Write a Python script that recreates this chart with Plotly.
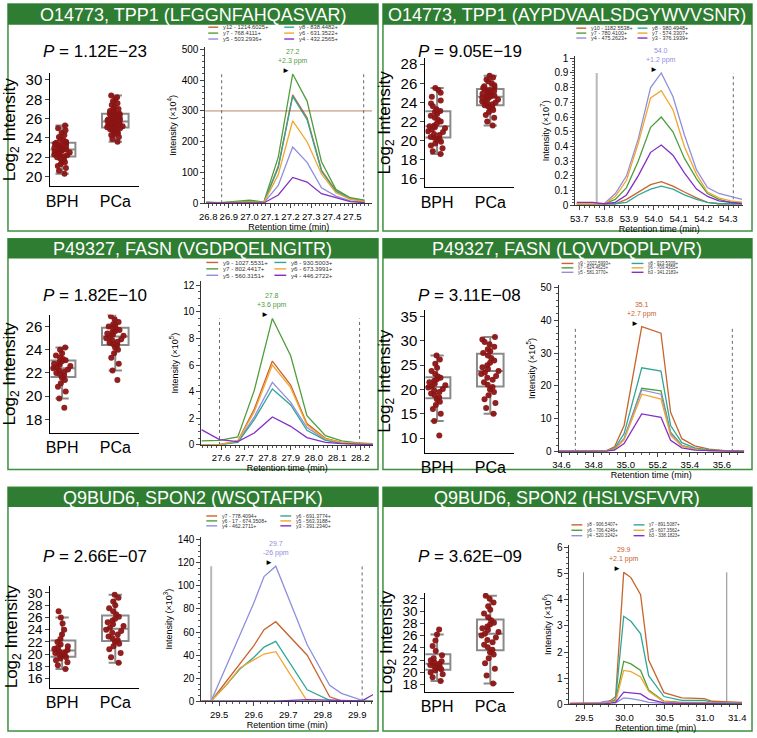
import plotly.graph_objects as go

W, H = 757, 738

# ---------------- DATA ----------------
headers = ["O14773, TPP1 (LFGGNFAHQASVAR)", "O14773, TPP1 (AYPDVAALSDGYWVVSNR)",
           "P49327, FASN (VGDPQELNGITR)", "P49327, FASN (LQVVDQPLPVR)",
           "Q9BUD6, SPON2 (WSQTAFPK)", "Q9BUD6, SPON2 (HSLVSFVVR)"]
p_values = ["1.12E\u221223", "9.05E\u221219", "1.82E\u221210", "3.11E\u221208", "2.66E\u221207", "3.62E\u221209"]
groups = ["BPH", "PCa"]

# Log2 intensities (box plots)
p1_bph = [20.3, 20.6, 20.9, 21.1, 21.3, 21.5, 21.6, 21.8, 21.9, 22.0, 22.1, 22.2, 22.2, 22.3, 22.4, 22.5, 22.5, 22.6,
          22.7, 22.7, 22.8, 22.8, 22.9, 23.0, 23.0, 23.1, 23.2, 23.3, 23.3, 23.4, 23.5, 23.5, 23.6, 23.8, 23.9, 24.1,
          24.3, 24.5, 24.8, 25.0, 25.3]
p1_pca = [23.6, 23.9, 24.1, 24.3, 24.4, 24.5, 24.6, 24.7, 24.8, 24.9, 24.9, 25.0, 25.0, 25.1, 25.1, 25.2, 25.2, 25.3,
          25.3, 25.4, 25.4, 25.5, 25.5, 25.6, 25.6, 25.6, 25.7, 25.7, 25.8, 25.8, 25.9, 25.9, 26.0, 26.0, 26.1, 26.2,
          26.2, 26.3, 26.4, 26.5, 26.5, 26.6, 26.7, 26.8, 26.9, 27.0, 27.2, 27.4, 27.6, 27.8, 28.0, 28.2, 28.4]
p2_bph = [18.6, 18.9, 19.2, 19.5, 19.7, 19.9, 20.1, 20.2, 20.3, 20.4, 20.6, 20.7, 20.9, 21.0, 21.2, 21.3, 21.4, 21.5,
          21.6, 21.8, 22.0, 22.2, 22.4, 22.6, 22.8, 23.0, 23.1, 23.3, 23.6, 23.9, 24.2, 24.6, 25.0, 25.3, 25.5]
p2_pca = [21.6, 22.0, 22.4, 22.7, 23.0, 23.2, 23.4, 23.5, 23.6, 23.7, 23.8, 23.9, 24.0, 24.1, 24.2, 24.3, 24.4, 24.5,
          24.6, 24.6, 24.7, 24.7, 24.8, 24.9, 25.0, 25.1, 25.2, 25.3, 25.4, 25.5, 25.6, 25.7, 25.8, 26.0, 26.2, 26.4,
          26.6, 26.8]
p3_bph = [19.0, 19.8, 20.4, 20.8, 21.1, 21.4, 21.6, 21.8, 21.9, 22.0, 22.1, 22.2, 22.3, 22.4, 22.5, 22.6, 22.7, 22.8,
          22.9, 23.0, 23.1, 23.2, 23.3, 23.5, 23.7, 24.0, 24.2]
p3_pca = [21.4, 22.2, 22.8, 23.3, 23.7, 24.0, 24.2, 24.4, 24.5, 24.6, 24.7, 24.8, 24.9, 25.0, 25.1, 25.2, 25.3, 25.4,
          25.5, 25.6, 25.7, 25.8, 25.9, 26.0, 26.1, 26.2, 26.4, 26.6, 26.9, 27.2]
p4_bph = [10.5, 13.5, 15.0, 16.0, 16.8, 17.5, 18.0, 18.4, 18.8, 19.2, 19.5, 19.8, 20.1, 20.4, 20.6, 20.9, 21.2, 21.5,
          21.8, 22.1, 22.4, 22.7, 23.2, 23.8, 24.5, 25.3, 26.2, 27.0]
p4_pca = [15.0, 16.2, 17.2, 18.0, 18.8, 19.5, 20.0, 20.5, 21.0, 21.5, 22.0, 22.4, 22.8, 23.2, 23.5, 23.8, 24.2, 24.6,
          25.0, 25.5, 26.0, 26.5, 27.0, 27.5, 27.9, 28.3, 28.8, 29.3, 29.8, 30.3, 30.8]
p5_bph = [17.6, 18.2, 18.7, 19.0, 19.3, 19.5, 19.7, 19.9, 20.0, 20.2, 20.3, 20.5, 20.7, 20.9, 21.1, 21.3, 21.6, 22.0,
          22.5, 23.2, 24.0, 25.0, 26.0, 27.0]
p5_pca = [18.6, 19.5, 20.2, 20.8, 21.3, 21.7, 22.0, 22.3, 22.6, 22.9, 23.2, 23.5, 23.8, 24.0, 24.3, 24.6, 24.9, 25.2,
          25.5, 25.8, 26.1, 26.5, 27.0, 27.5, 28.0, 28.6, 29.2, 29.7]
p6_bph = [18.6, 19.2, 19.7, 20.0, 20.3, 20.5, 20.7, 20.9, 21.0, 21.2, 21.4, 21.6, 21.8, 22.0, 22.3, 22.8, 23.5, 24.3,
          25.2, 26.2, 27.0]
p6_pca = [18.2, 19.5, 20.6, 21.5, 22.3, 22.9, 23.3, 23.7, 24.1, 24.5, 24.9, 25.3, 25.7, 26.0, 26.3, 26.6, 26.9, 27.2,
          27.5, 27.8, 28.1, 28.5, 29.0, 29.6, 30.2, 30.8, 31.4, 32.0, 32.5]

# Chromatograms: retention times and transition intensities
c1_rt = [26.79, 26.86, 26.93, 27.00, 27.07, 27.14, 27.21, 27.28, 27.35, 27.42, 27.49, 27.56]
c1_names = ["y12 - 1214.6025+", "y7 - 768.4111+", "y5 - 503.2936+", "y8 - 838.4482+", "y6 - 631.3522+", "y4 - 432.2565+"]
c1_y12 = [3, 1, 3, 5, 2, 120, 352, 278, 108, 40, 16, 6]
c1_y7 = [4, 2, 6, 10, 4, 150, 420, 332, 135, 45, 18, 10]
c1_y5 = [2, 1, 2, 3, 1, 58, 183, 133, 50, 23, 8, 3]
c1_y8 = [3, 1, 3, 4, 2, 115, 347, 272, 104, 38, 15, 6]
c1_y6 = [2, 1, 3, 4, 2, 93, 268, 200, 95, 34, 13, 5]
c1_y4 = [1, 1, 1, 2, 1, 27, 84, 69, 31, 18, 5, 2]
c1_bounds = [26.865, 27.555]

c2_rt = [53.69, 53.753, 53.80, 53.845, 53.89, 53.937, 53.987, 54.03, 54.077, 54.123, 54.172, 54.216, 54.262, 54.309, 54.355]
c2_names = ["y10 - 1182.5538+", "y7 - 780.4100+", "y4 - 475.2623+", "y8 - 980.4948+", "y7 - 574.3307+", "y3 - 376.1939+"]
c2_y10 = [0.01, 0.01, 0.01, 0.01, 0.04, 0.09, 0.14, 0.16, 0.13, 0.09, 0.05, 0.02, 0.01, 0.01, 0.01]
c2_y7a = [0.01, 0.01, 0.01, 0.04, 0.12, 0.30, 0.53, 0.60, 0.50, 0.32, 0.18, 0.08, 0.04, 0.02, 0.02]
c2_y4 = [0.02, 0.01, 0.01, 0.08, 0.20, 0.45, 0.80, 0.90, 0.74, 0.48, 0.24, 0.12, 0.08, 0.06, 0.04]
c2_y8 = [0.01, 0.01, 0.01, 0.01, 0.02, 0.07, 0.11, 0.13, 0.11, 0.07, 0.04, 0.02, 0.01, 0.01, 0.01]
c2_y7b = [0.01, 0.01, 0.01, 0.06, 0.17, 0.42, 0.73, 0.78, 0.65, 0.40, 0.21, 0.09, 0.05, 0.03, 0.02]
c2_y3 = [0.02, 0.02, 0.01, 0.02, 0.07, 0.20, 0.36, 0.41, 0.34, 0.22, 0.11, 0.06, 0.03, 0.02, 0.01]
c2_bounds = [53.77, 54.32]

c3_rt = [27.515, 27.593, 27.672, 27.743, 27.821, 27.90, 27.97, 28.05, 28.12, 28.19, 28.254]
c3_names = ["y9 - 1027.5531+", "y7 - 802.4417+", "y5 - 560.3151+", "y8 - 930.5003+", "y6 - 673.3991+", "y4 - 446.2722+"]
c3_y9 = [0.0, 0.02, 0.3, 2.7, 6.3, 4.5, 1.6, 0.5, 0.2, 0.1, 0.05]
c3_y7 = [0.3, 0.35, 0.6, 4.1, 9.5, 6.7, 2.2, 0.7, 0.3, 0.15, 0.1]
c3_y5 = [0.0, 0.02, 0.25, 2.1, 4.7, 3.2, 1.3, 0.4, 0.15, 0.08, 0.05]
c3_y8 = [0.0, 0.02, 0.2, 1.9, 4.2, 3.0, 1.1, 0.35, 0.12, 0.06, 0.04]
c3_y6 = [0.0, 0.02, 0.3, 2.5, 6.0, 4.3, 1.5, 0.45, 0.2, 0.1, 0.05]
c3_y4 = [1.15, 0.4, 0.25, 0.9, 2.1, 1.4, 0.55, 0.2, 0.1, 0.05, 0.03]
c3_bounds = [27.593, 28.197]

c4_rt = [34.58, 34.70, 34.80, 34.88, 34.93, 34.99, 35.10, 35.22, 35.28, 35.35, 35.43, 35.52, 35.62, 35.74]
c4_names = ["y9 - 1022.5993+", "y7 - 624.4625+", "y5 - 581.3770+", "y8 - 923.5309+", "y6 - 709.4355+", "b3 - 341.2183+"]
c4_y9 = [0.3, 0.3, 0.3, 0.4, 1.5, 8.0, 38.0, 36.0, 12.0, 4.0, 1.8, 0.8, 0.4, 0.3]
c4_y7 = [0.2, 0.2, 0.2, 0.3, 0.8, 4.0, 19.3, 18.5, 6.0, 2.0, 0.9, 0.4, 0.3, 0.2]
c4_y5 = [0.2, 0.2, 0.2, 0.3, 0.8, 4.0, 18.8, 17.5, 5.5, 1.9, 0.8, 0.4, 0.3, 0.2]
c4_y8 = [0.2, 0.2, 0.2, 0.3, 1.0, 5.5, 25.5, 24.5, 8.0, 2.8, 1.2, 0.6, 0.3, 0.2]
c4_y6 = [0.2, 0.2, 0.2, 0.3, 0.7, 3.6, 17.5, 16.0, 5.0, 1.7, 0.8, 0.4, 0.2, 0.2]
c4_b3 = [0.1, 0.1, 0.1, 0.2, 0.5, 2.5, 11.5, 10.5, 3.5, 1.2, 0.5, 0.3, 0.2, 0.1]
c4_bounds = [34.686, 35.665]
c4_ticks = [34.6, 34.8, 35.0, 35.2, 35.4, 35.6]
c4_ticktext = ["34.6", "34.8", "35.0", "55.2", "35.4", "35.6"]

c5_rt = [29.449, 29.477, 29.52, 29.56, 29.60, 29.63, 29.664, 29.755, 29.82, 29.854, 29.914, 29.946]
c5_names = ["y7 - 778.4094+", "y6 - 17 - 674.3508+", "y4 - 462.2711+", "y6 - 691.3774+", "y5 - 563.3188+", "y3 - 391.2340+"]
c5_y7 = [0.5, 0.5, 17, 33, 48, 62, 69, 40, 4, 0.5, 0.5, 0.5]
c5_y6_17 = [0.3, 0.3, 0.3, 0.3, 0.3, 0.3, 0.3, 0.3, 0.3, 0.3, 0.3, 0.3]
c5_y4 = [0.5, 0.5, 30, 58, 85, 108, 117, 49, 14, 7, 1, 0.5]
c5_y6 = [0.5, 0.5, 14, 28, 38, 47, 52, 10, 1, 0.5, 0.5, 0.5]
c5_y5 = [0.5, 0.5, 14, 29, 36, 41, 43, 0.3, 0.0, 0.0, 0.0, 0.0]
c5_y3 = [0.3, 0.3, 0.3, 0.3, 0.3, 0.3, 0.3, 1.5, 1.0, 0.5, 0.5, 6.0]
c5_bounds = [29.477, 29.914]

c6_rt = [29.32, 29.50, 29.67, 29.77, 29.83, 29.89, 29.99, 30.08, 30.20, 30.30, 30.49, 30.71, 30.99, 31.09, 31.46]
c6_names = ["y8 - 906.5407+", "y6 - 706.4246+", "y4 - 520.3242+", "y7 - 891.5087+", "y5 - 607.3562+", "b3 - 338.1823+"]
c6_y8 = [0.05, 0.05, 0.05, 0.10, 0.15, 0.30, 5.05, 4.85, 4.20, 1.70, 0.45, 0.25, 0.22, 0.12, 0.08]
c6_y6 = [0.03, 0.03, 0.03, 0.05, 0.08, 0.15, 1.65, 1.55, 1.30, 0.55, 0.12, 0.08, 0.08, 0.05, 0.03]
c6_y4 = [0.02, 0.02, 0.05, 0.12, 0.08, 0.06, 0.25, 0.22, 0.15, 0.08, 0.04, 0.03, 0.03, 0.02, 0.02]
c6_y7 = [0.03, 0.03, 0.03, 0.05, 0.10, 0.20, 3.37, 3.18, 2.70, 1.10, 0.30, 0.15, 0.15, 0.08, 0.05]
c6_y5 = [0.03, 0.03, 0.03, 0.05, 0.08, 0.10, 1.30, 1.25, 1.05, 0.50, 0.10, 0.06, 0.05, 0.04, 0.03]
c6_b3 = [0.02, 0.02, 0.02, 0.03, 0.05, 0.08, 0.47, 0.44, 0.40, 0.20, 0.06, 0.04, 0.04, 0.03, 0.02]
c6_bounds = [29.49, 31.27]
c6_ticks = [29.5, 30.0, 30.5, 31.0, 31.4]
c6_ticktext = ["29.5", "30.0", "30.5", "31.0", "31.4"]

peak_labels = [("27.2", "+2.3 ppm"), ("54.0", "+1.2 ppm"), ("27.8", "+3.6 ppm"),
               ("35.1", "+2.7 ppm"), ("29.7", "-26 ppm"), ("29.9", "+2.1 ppm")]
exponents = ["4", "7", "5", "5", "3", "6"]

# ---------------- STYLE ----------------
FONT = "Liberation Sans, Arial, sans-serif"
BROWN, GREEN, LAV, TEAL, ORANGE, PURPLE = "#c8642c", "#4f9e3c", "#8f8fdd", "#33a597", "#f2a630", "#8330c4"
SERIES_COLORS = [BROWN, GREEN, LAV, TEAL, ORANGE, PURPLE]
HEAD = "#2f7d32"
DOT = "#8b1414"
DOTTED = dict(color="#666", width=1, dash="dot")
SOLID_L = dict(color="#b8b8b8", width=2)
SOLID_G = dict(color="#888", width=1)


def X(p):
    return p / W


def Y(p):
    return 1 - p / H


def rng(v1, p1, v2, p2, d0, d1):
    k = (p2 - p1) / (v2 - v1)
    a, b = v1 + (d0 - p1) / k, v1 + (d1 - p1) / k
    return [min(a, b), max(a, b)]


panels = [
    dict(box=(p1_bph, p1_pca), rect=(2, 0, 377, 230), hb=21,
         bx=(45, 135), by=(70, 185), yl=(30, 77, 20, 175), yd=2, ptxt=(90, 48), tfs=15,
         rt=c1_rt, ser=[c1_y12, c1_y7, c1_y5, c1_y8, c1_y6, c1_y4], names=c1_names, main=1, bounds=c1_bounds,
         bstyle=[DOTTED, DOTTED],
         cx=(202, 371), cy=(44, 202), xl=(26.8, 205, 27.5, 351), ylv=(0, 202, 500, 46), xd=0.1, ydt=100,
         leg=(205, 282, [23.5, 29.5, 35.5], 5.8, 10)),
    dict(box=(p2_bph, p2_pca), rect=(382, 0, 756, 230), hb=21,
         bx=(425, 515), by=(55, 186), yl=(28, 61, 18, 158), yd=2, ptxt=(470, 48), tfs=15,
         rt=c2_rt, ser=[c2_y10, c2_y7a, c2_y4, c2_y8, c2_y7b, c2_y3], names=c2_names, main=2, bounds=c2_bounds,
         bstyle=[SOLID_L, DOTTED],
         cx=(577, 747), cy=(53, 204), xl=(53.7, 581, 54.3, 732), ylv=(0, 204, 1, 55), xd=0.1, ydt=0.1,
         leg=(578, 640, [24.5, 29.5, 34.5], 5.4, 10)),
    dict(box=(p3_bph, p3_pca), rect=(2, 238, 377, 472), hb=20,
         bx=(45, 135), by=(315, 435), yl=(26, 327, 18, 421), yd=2, ptxt=(90, 296), tfs=15,
         rt=c3_rt, ser=[c3_y9, c3_y7, c3_y5, c3_y8, c3_y6, c3_y4], names=c3_names, main=1, bounds=c3_bounds,
         bstyle=[DOTTED, DOTTED],
         cx=(198, 372), cy=(281, 447), xl=(27.6, 218, 28.2, 359), ylv=(0, 447, 12, 285), xd=0.1, ydt=2,
         leg=(203, 272, [262, 268.5, 275], 6.2, 12)),
    dict(box=(p4_bph, p4_pca), rect=(382, 238, 756, 472), hb=20,
         bx=(425, 515), by=(310, 455), yl=(35, 317, 10, 440), yd=5, ptxt=(470, 296), tfs=15,
         rt=c4_rt, ser=[c4_y9, c4_y7, c4_y5, c4_y8, c4_y6, c4_b3], names=c4_names, main=0, bounds=c4_bounds,
         bstyle=[DOTTED, DOTTED],
         cx=(560, 748), cy=(285, 454), xl=(34.6, 563, 35.4, 693), ylv=(0, 454, 50, 287), xd=None, ydt=10,
         leg=(563, 634, [263, 267.5, 272], 4.5, 12)),
    dict(box=(p5_bph, p5_pca), rect=(2, 490, 377, 737), hb=20,
         bx=(45, 135), by=(590, 693), yl=(30, 597, 16, 684), yd=2, ptxt=(90, 560), tfs=13.5,
         rt=c5_rt, ser=[c5_y7, c5_y6_17, c5_y4, c5_y6, c5_y5, c5_y3], names=c5_names, main=2, bounds=c5_bounds,
         bstyle=[SOLID_L, DOTTED],
         cx=(198, 372), cy=(540, 707), xl=(29.5, 216, 29.9, 356), ylv=(0, 707, 140, 543), xd=0.1, ydt=20,
         leg=(203, 278, [519, 524, 529], 5.2, 11)),
    dict(box=(p6_bph, p6_pca), rect=(382, 490, 756, 737), hb=20,
         bx=(425, 515), by=(597, 697), yl=(32, 603, 18, 690), yd=2, ptxt=(470, 560), tfs=13.5,
         rt=c6_rt, ser=[c6_y8, c6_y6, c6_y4, c6_y7, c6_y5, c6_b3], names=c6_names, main=0, bounds=c6_bounds,
         bstyle=[SOLID_G, SOLID_G],
         cx=(571, 746), cy=(548, 710), xl=(29.5, 586, 31.4, 741), ylv=(0, 710, 6, 551), xd=None, ydt=1,
         leg=(573, 636, [528, 533.5, 539], 4.6, 11)),
]

fig = go.Figure()
shapes, annos = [], []
layout = dict(width=W, height=H, margin=dict(l=0, r=0, t=0, b=0), paper_bgcolor="white",
              plot_bgcolor="rgba(0,0,0,0)", showlegend=False, font=dict(family=FONT, color="black"))

for i, P in enumerate(panels):
    nb, nc = 2 * i + 1, 2 * i + 2
    x0, y0, x1, y1 = P["rect"]
    # panel frame + header
    shapes.append(dict(type="rect", xref="paper", yref="paper", x0=X(x0), x1=X(x1), y0=Y(y1), y1=Y(y0),
                       line=dict(color="#3f8f3f", width=1.5), layer="below"))
    shapes.append(dict(type="rect", xref="paper", yref="paper", x0=X(x0), x1=X(x1), y0=Y(y0 + P["hb"]), y1=Y(y0),
                       line=dict(width=0), fillcolor=HEAD, layer="below"))
    annos.append(dict(text=headers[i], xref="paper", yref="paper", x=X((x0 + x1) / 2), y=Y(y0 + P["hb"] / 2 + 0.5),
                      xanchor="center", yanchor="middle",
                      showarrow=False, font=dict(size=18, color="white", family=FONT)))
    # P value
    annos.append(dict(text="<i>P</i> = " + p_values[i], xref="paper", yref="paper", x=X(P["ptxt"][0]),
                      y=Y(P["ptxt"][1]), xanchor="center", yanchor="middle", showarrow=False, font=dict(size=17)))

    # ---- box plot ----
    for g, vals in zip(groups, P["box"]):
        fig.add_trace(go.Box(y=vals, x=[g] * len(vals), name=g, xaxis=f"x{nb}", yaxis=f"y{nb}",
                             boxpoints="all", jitter=0.7, pointpos=0, width=0.5, whiskerwidth=0.5,
                             fillcolor="rgba(255,255,255,0)", line=dict(color="#8a8a8a", width=2),
                             marker=dict(color=DOT, size=6, opacity=0.95)))
    v1, p1, v2, p2 = P["yl"]
    layout[f"xaxis{nb}"] = dict(domain=[X(P["bx"][0]), X(P["bx"][1])], anchor=f"y{nb}", type="category",
                                categoryorder="array", categoryarray=groups, range=[-0.22, 1.45],
                                showline=True, linecolor="black", linewidth=1.2, ticks="",
                                tickfont=dict(size=16), showgrid=False, zeroline=False)
    layout[f"yaxis{nb}"] = dict(domain=[Y(P["by"][1]), Y(P["by"][0])], anchor=f"x{nb}",
                                range=rng(v1, p1, v2, p2, P["by"][0], P["by"][1]), dtick=P["yd"],
                                showline=True, linecolor="black", linewidth=1.2, ticks="outside", ticklen=4,
                                tickfont=dict(size=P["tfs"]), showgrid=False, zeroline=False,
                                title=dict(text="Log<sub>2</sub> Intensity", font=dict(size=17), standoff=5))

    # ---- chromatogram ----
    for k in range(6):
        fig.add_trace(go.Scatter(x=P["rt"], y=P["ser"][k], mode="lines", name=P["names"][k],
                                 xaxis=f"x{nc}", yaxis=f"y{nc}",
                                 line=dict(color=SERIES_COLORS[k], width=1.3)))
    xv1, xp1, xv2, xp2 = P["xl"]
    yv1, yp1, yv2, yp2 = P["ylv"]
    xr = rng(xv1, xp1, xv2, xp2, P["cx"][0], P["cx"][1])
    yr = rng(yv1, yp1, yv2, yp2, P["cy"][0], P["cy"][1])
    xa = dict(domain=[X(P["cx"][0]), X(P["cx"][1])], anchor=f"y{nc}", range=xr,
              showline=True, linecolor="#333", linewidth=1, ticks="outside", ticklen=4, tickangle=0,
              minor=dict(ticks="outside", ticklen=2, tickcolor="#555"),
              tickfont=dict(size=9.5), showgrid=False, zeroline=False,
              title=dict(text="Retention time (min)", font=dict(size=9), standoff=2))
    if i == 3:
        xa.update(tickmode="array", tickvals=c4_ticks, ticktext=c4_ticktext)
    elif i == 5:
        xa.update(tickmode="array", tickvals=c6_ticks, ticktext=c6_ticktext)
    else:
        xa.update(dtick=P["xd"], tick0=xv1, tickformat=".1f")
    layout[f"xaxis{nc}"] = xa
    layout[f"yaxis{nc}"] = dict(domain=[Y(P["cy"][1]), Y(P["cy"][0])], anchor=f"x{nc}", range=yr,
                                dtick=P["ydt"], showline=True, linecolor="#333", linewidth=1,
                                ticks="outside", ticklen=4,
                                minor=dict(ticks="outside", ticklen=2, tickcolor="#555"),
                                tickfont=dict(size=10), showgrid=False, zeroline=False,
                                title=dict(text=f"Intensity (\u00d710<sup>{exponents[i]}</sup>)",
                                           font=dict(size=9), standoff=3))
    # integration boundaries
    ms = P["ser"][P["main"]]
    top = max(ms)
    for b, st in zip(P["bounds"], P["bstyle"]):
        shapes.append(dict(type="line", xref=f"x{nc}", yref=f"y{nc}", x0=b, x1=b, y0=0, y1=top,
                           line=st, layer="below"))
    # peak marker and label
    ip = ms.index(top)
    annos.append(dict(text="\u25ba", xref=f"x{nc}", yref=f"y{nc}", x=P["rt"][ip], y=top, showarrow=False,
                      xanchor="right", yanchor="bottom", xshift=-1, yshift=-3, font=dict(size=8, color="black")))
    rl, pp = peak_labels[i]
    annos.append(dict(text=f"{rl}<br>{pp}", xref=f"x{nc}", yref=f"y{nc}", x=P["rt"][ip], y=top, showarrow=False,
                      xanchor="center", yanchor="bottom", yshift=7,
                      font=dict(size=7, color=SERIES_COLORS[P["main"]])))
    # legend entries
    lx1, lx2, rows, fs, ll = P["leg"]
    for k in range(6):
        lx = lx1 if k < 3 else lx2
        ry = rows[k % 3]
        shapes.append(dict(type="line", xref="paper", yref="paper", x0=X(lx), x1=X(lx + ll), y0=Y(ry), y1=Y(ry),
                           line=dict(color=SERIES_COLORS[k], width=1.4)))
        annos.append(dict(text=P["names"][k], xref="paper", yref="paper", x=X(lx + ll + 3), y=Y(ry),
                          xanchor="left", yanchor="middle", showarrow=False, font=dict(size=fs, color="#333")))

# faint horizontal reference line in first chromatogram
shapes.append(dict(type="line", xref="x2 domain", yref="y2", x0=0, x1=1, y0=300, y1=300,
                   line=dict(color="#9a4a2a", width=0.7)))

layout["shapes"] = shapes
layout["annotations"] = annos
fig.update_layout(**layout)
fig.write_html("out.html", config={"displayModeBar": False},
               post_script="document.body.style.margin='0';")
